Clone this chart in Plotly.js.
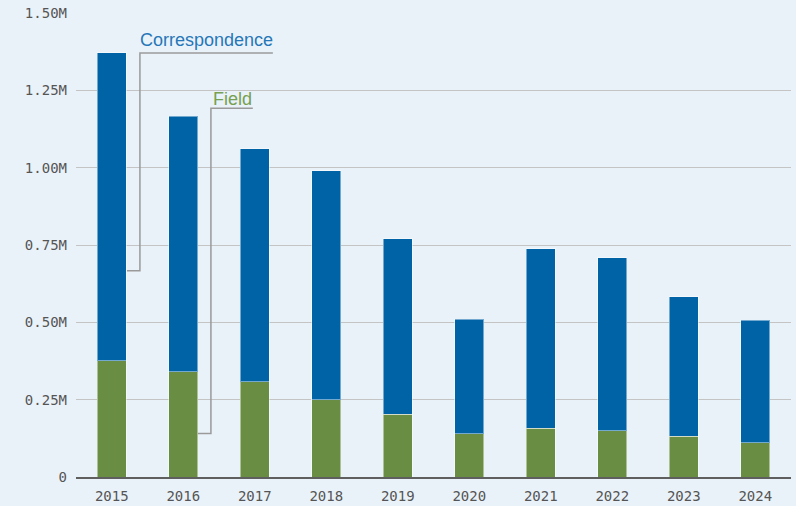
<!DOCTYPE html>
<html>
<head>
<meta charset="utf-8">
<script src="https://cdn.plot.ly/plotly-3.0.1.min.js"></script>
<style>html,body{margin:0;padding:0;background:#EAF2F9;}#chart{width:796px;height:506px;}</style>
</head>
<body>
<div id="chart"></div>
<script>
const years = ['2015','2016','2017','2018','2019','2020','2021','2022','2023','2024'];
const field = [375500, 341000, 308000, 249000, 202500, 140000, 158000, 149500, 132000, 111000];
const correspondence = [995500, 825000, 753000, 741000, 568500, 370000, 580000, 558500, 450000, 396000];
const yTickVals = [0, 250000, 500000, 750000, 1000000, 1250000, 1500000];
const yTickText = ['0', '0.25M', '0.50M', '0.75M', '1.00M', '1.25M', '1.50M'];
const seriesNames = ['Field', 'Correspondence'];

const blue = '#0063A6';
const green = '#6A8D44';

const traces = [
  {type:'bar', x: years, y: field, name: seriesNames[0], marker:{color: green, line:{color:'rgba(255,255,255,0.45)', width:1}}, hoverinfo:'x+y'},
  {type:'bar', x: years, y: correspondence, name: seriesNames[1], marker:{color: blue, line:{color:'rgba(255,255,255,0.45)', width:1}}, hoverinfo:'x+y'}
];

const lineStyle = {color:'#9a9a9a', width:1.5};
const layout = {
  width: 796, height: 506,
  margin: {l:76, r:5, t:13, b:29},
  paper_bgcolor: '#EAF2F9',
  plot_bgcolor: '#EAF2F9',
  barmode: 'stack',
  bargap: 0.595,
  showlegend: false,
  xaxis: {
    type:'category',
    showgrid:false,
    showline:true, linecolor:'#5f5f5f', linewidth:2,
    ticks:'', ticklabelstandoff: 5,
    tickfont:{family:'DejaVu Sans Mono', size:14, color:'#555'}
  },
  yaxis: {
    range:[0, 1500000],
    tickvals: yTickVals, ticktext: yTickText,
    showgrid:true, gridcolor:'#c4c4c4', gridwidth:1,
    zeroline:false, showline:false,
    ticks:'', ticklabelstandoff: 8,
    tickfont:{family:'DejaVu Sans Mono', size:14, color:'#555'}
  },
  shapes: [
    {type:'path', xref:'paper', yref:'y', line: lineStyle,
     path: 'M 0.2753 1371000 L 0.0894 1371000 L 0.0894 667000 L 0.0713 667000'},
    {type:'path', xref:'paper', yref:'y', line: lineStyle,
     path: 'M 0.2473 1192000 L 0.1887 1192000 L 0.1887 141000 L 0.1705 141000'}
  ],
  annotations: [
    {xref:'paper', yref:'y', x:0.0894, y:1413000, xanchor:'left', yanchor:'middle', xshift:-2,
     text: seriesNames[1], showarrow:false, font:{family:'Liberation Sans, Arial', size:18, color:'#2677B8'}},
    {xref:'paper', yref:'y', x:0.1914, y:1221000, xanchor:'left', yanchor:'middle', xshift:-2,
     text: seriesNames[0], showarrow:false, font:{family:'Liberation Sans, Arial', size:18, color:'#76A052'}}
  ]
};

Plotly.newPlot('chart', traces, layout, {displayModeBar:false, staticPlot:true});
</script>
</body>
</html>
